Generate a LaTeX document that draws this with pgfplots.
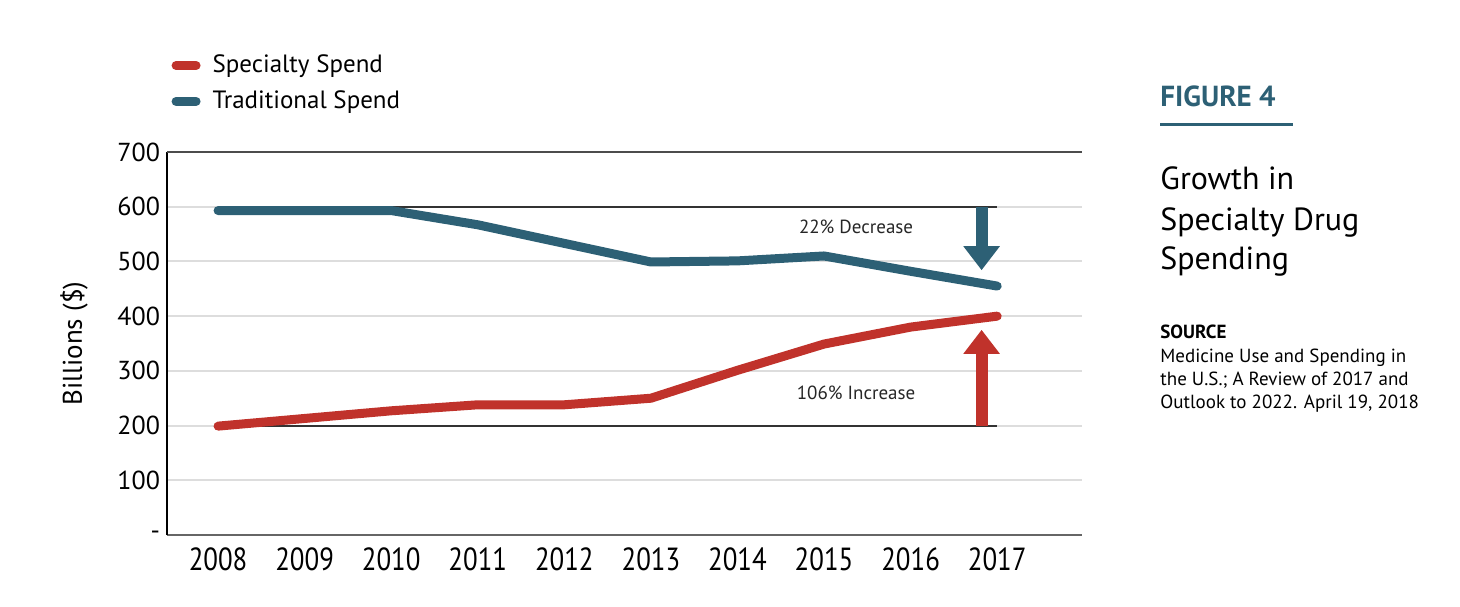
\documentclass[border=0pt]{standalone}
\usepackage{fontspec}
\setmainfont{PT Sans}
\usepackage{graphicx}
\usepackage{pgfplots}
\pgfplotsset{compat=1.18}
\usetikzlibrary{arrows.meta}

\definecolor{specred}{RGB}{192,50,43}
\definecolor{tradblue}{RGB}{45,96,117}
\definecolor{gridgray}{RGB}{221,221,221}
\definecolor{refgray}{RGB}{51,51,51}

\newcommand{\yr}[1]{\scalebox{0.84}[1]{#1}}

\begin{document}
\begin{tikzpicture}
% page frame, 1460x606 px at 0.5pt per px
\path (0,0) rectangle (730pt,303pt);

\begin{axis}[
    at={(83.5pt,35.5pt)}, anchor=south west,
    scale only axis,
    width=457.5pt, height=191.5pt,
    xmin=-0.59, xmax=9.98,
    ymin=0, ymax=700,
    xtick={0,...,9},
    xticklabels={\yr{2008},\yr{2009},\yr{2010},\yr{2011},\yr{2012},\yr{2013},\yr{2014},\yr{2015},\yr{2016},\yr{2017}},
    ytick={0,100,...,700},
    yticklabels={-,100,200,300,400,500,600,700},
    /pgf/number format/assume math mode=true,
    tick label style={font=\fontsize{13}{15}\selectfont},
    xticklabel style={font=\fontsize{16}{18}\selectfont, yshift=-3pt},
    major tick length=0pt,
    axis lines*=left,
    axis x line*=bottom,
    x axis line style={draw=black!60, line width=1pt, -},
    y axis line style={draw=black, line width=0.8pt, -},
    ymajorgrids,
    grid style={draw=gridgray, line width=1pt},
    ylabel={Billions (\$)},
    ylabel style={font=\fontsize{13.5}{15}\selectfont, yshift=8pt},
    clip=false,
    legend style={at={(-0.002,1.275)}, anchor=north west, draw=none, fill=none,
        font=\fontsize{12.5}{15}\selectfont, row sep=3.5pt,
        legend cell align=left,
        /tikz/every odd column/.style={column sep=4pt}},
    legend image code/.code={\draw[#1, line width=4.5pt, line cap=round] (0pt,0pt) -- (10pt,0pt);},
]
% top frame line at 700
\addplot[draw=black!70, line width=0.8pt, forget plot] coordinates {(-0.59,700) (9.98,700)};
% reference lines at 600 and 200
\addplot[draw=refgray, line width=1pt, forget plot] coordinates {(0,600) (9,600)};
\addplot[draw=refgray, line width=1pt, forget plot] coordinates {(0,200) (9,200)};

\addplot[draw=specred, line width=4.5pt, line cap=round, line join=round] coordinates {
    (0,199) (1,213) (2,227) (3,238) (4,238) (5,250) (6,301) (7,349) (8,380) (9,400)
};
\addlegendentry{Specialty Spend}
\addplot[draw=tradblue, line width=4.5pt, line cap=round, line join=round] coordinates {
    (0,593) (1,593) (2,593) (3,567) (4,533) (5,499) (6,501) (7,510) (8,482) (9,455)
};
\addlegendentry{Traditional Spend}

% change arrows
\addplot[draw=tradblue, line width=6pt, -{Triangle[width=17.5pt,length=12pt]}, forget plot]
    coordinates {(8.82,600) (8.82,484)};
\addplot[draw=specred, line width=6pt, -{Triangle[width=17.5pt,length=12pt]}, forget plot]
    coordinates {(8.82,200) (8.82,375)};

\node[font=\fontsize{9.5}{11}\selectfont, text=black!85] at (axis cs:7.37,563) {22\% Decrease};
\node[font=\fontsize{9.5}{11}\selectfont, text=black!85] at (axis cs:7.37,260) {106\% Increase};
\end{axis}

% right-hand panel
\node[anchor=base west, inner sep=0pt, text=tradblue, font=\fontsize{14.5}{16}\selectfont\bfseries] at (580pt,249.5pt) {FIGURE 4};
\draw[tradblue, line width=1.5pt] (580pt,240.5pt) -- (646.5pt,240.5pt);
\node[anchor=base west, inner sep=0pt, font=\fontsize{16}{20}\selectfont] at (580pt,208pt) {Growth in};
\node[anchor=base west, inner sep=0pt, font=\fontsize{16}{20}\selectfont] at (580pt,188pt) {Specialty Drug};
\node[anchor=base west, inner sep=0pt, font=\fontsize{16}{20}\selectfont] at (580pt,168pt) {Spending};
\node[anchor=base west, inner sep=0pt, font=\fontsize{9.5}{11}\selectfont\bfseries] at (580pt,134pt) {SOURCE};
\node[anchor=base west, inner sep=0pt, font=\fontsize{9.5}{11}\selectfont] at (580pt,122pt) {Medicine Use and Spending in};
\node[anchor=base west, inner sep=0pt, font=\fontsize{9.5}{11}\selectfont] at (580pt,110.5pt) {the U.S.; A Review of 2017 and};
\node[anchor=base west, inner sep=0pt, font=\fontsize{9.5}{11}\selectfont] at (580pt,99pt) {Outlook to 2022. April 19, 2018};
\end{tikzpicture}
\end{document}
